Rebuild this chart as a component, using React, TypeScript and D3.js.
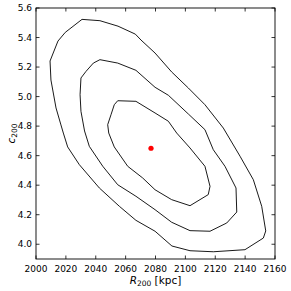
import React from "react";
import * as d3 from "d3";

const xTicks = [2000, 2020, 2040, 2060, 2080, 2100, 2120, 2140, 2160];
const yTicks = [4.0, 4.2, 4.4, 4.6, 4.8, 5.0, 5.2, 5.4, 5.6];

// contour levels: [R200, c200]
const outerContour: [number, number][] = [
  [2009.4, 5.241], [2014.7, 5.376], [2019.6, 5.435], [2030.8, 5.523], [2042.8, 5.514],
  [2054.9, 5.477], [2066.5, 5.423], [2070.3, 5.383], [2079.7, 5.295], [2090.8, 5.167],
  [2102.0, 5.058], [2113.1, 4.945], [2125.4, 4.787], [2136.6, 4.596], [2145.5, 4.437],
  [2151.1, 4.257], [2153.8, 4.09], [2152.2, 4.042], [2139.9, 3.963], [2118.7, 3.949],
  [2103.1, 3.956], [2091.0, 3.988], [2079.7, 4.088], [2066.9, 4.162], [2055.8, 4.257],
  [2042.4, 4.381], [2029.0, 4.539], [2021.2, 4.659], [2018.3, 4.753], [2016.7, 4.808],
  [2013.4, 4.923], [2010.0, 5.112],
];
const middleContour: [number, number][] = [
  [2029.5, 5.013], [2030.1, 5.126], [2033.5, 5.171], [2038.4, 5.227], [2042.8, 5.25],
  [2054.7, 5.227], [2066.9, 5.178], [2079.7, 5.063], [2088.6, 5.009], [2102.0, 4.882],
  [2113.1, 4.776], [2118.7, 4.64], [2126.5, 4.528], [2133.9, 4.381], [2134.4, 4.218],
  [2127.7, 4.144], [2116.5, 4.088], [2103.1, 4.092], [2090.8, 4.149], [2079.7, 4.234],
  [2066.9, 4.325], [2054.7, 4.403], [2044.7, 4.528], [2035.7, 4.663], [2032.5, 4.767],
  [2030.1, 4.9],
];
const innerContour: [number, number][] = [
  [2048.0, 4.81], [2050.2, 4.877], [2052.4, 4.945], [2054.7, 4.972], [2066.9, 4.968],
  [2079.7, 4.889], [2088.6, 4.833], [2094.2, 4.753], [2103.1, 4.652], [2113.1, 4.528],
  [2116.5, 4.392], [2115.3, 4.336], [2103.1, 4.261], [2090.8, 4.302], [2079.7, 4.369],
  [2071.4, 4.449], [2061.4, 4.528], [2052.4, 4.659], [2048.7, 4.753],
];
const contours = [outerContour, middleContour, innerContour];
const bestFit: [number, number] = [2077, 4.65];

const W = 291, H = 291;
const L = 36, R = 275, T = 8, B = 259;
const font = "DejaVu Sans, sans-serif";

export default function App() {
  const x = d3.scaleLinear().domain([2000, 2160]).range([L, R]);
  const y = d3.scaleLinear().domain([3.9, 5.6]).range([B, T]);
  const line = d3
    .line<[number, number]>()
    .x((d) => x(d[0]))
    .y((d) => y(d[1]))
    .curve(d3.curveLinearClosed);
  const tl = 3.5;
  return (
    <svg width={W} height={H} style={{ position: "absolute", left: 0, top: 0, background: "#fff" }}>
      <rect x={0} y={0} width={W} height={H} fill="#fff" />
      {contours.map((c, i) => (
        <path key={i} d={line(c) || ""} fill="none" stroke="#000" strokeWidth={0.9} strokeLinejoin="round" />
      ))}
      <circle cx={x(bestFit[0])} cy={y(bestFit[1])} r={2.6} fill="#ff0000" />
      <rect x={L} y={T} width={R - L} height={B - T} fill="none" stroke="#000" strokeWidth={0.9} />
      {xTicks.map((t) => (
        <g key={"x" + t}>
          <line x1={x(t)} x2={x(t)} y1={B} y2={B - tl} stroke="#000" strokeWidth={0.8} />
          <line x1={x(t)} x2={x(t)} y1={T} y2={T + tl} stroke="#000" strokeWidth={0.8} />
          <text x={x(t)} y={271.5} fontSize={9} fontFamily={font} textAnchor="middle">
            {t}
          </text>
        </g>
      ))}
      {yTicks.map((t) => (
        <g key={"y" + t}>
          <line x1={L} x2={L + tl} y1={y(t)} y2={y(t)} stroke="#000" strokeWidth={0.8} />
          <line x1={R} x2={R - tl} y1={y(t)} y2={y(t)} stroke="#000" strokeWidth={0.8} />
          <text x={32} y={y(t)} dy="0.36em" fontSize={9} fontFamily={font} textAnchor="end">
            {t.toFixed(1)}
          </text>
        </g>
      ))}
      <text x={(L + R) / 2} y={284} fontSize={10.5} fontFamily={font} textAnchor="middle">
        <tspan fontStyle="italic">R</tspan>
        <tspan fontSize={7.5} dy={2}>200</tspan>
        <tspan dy={-2}> [kpc]</tspan>
      </text>
      <text
        transform={`translate(15, ${(T + B) / 2}) rotate(-90)`}
        fontSize={10.5}
        fontFamily={font}
        textAnchor="middle"
      >
        <tspan fontStyle="italic">c</tspan>
        <tspan fontSize={7.5} dy={2}>200</tspan>
      </text>
    </svg>
  );
}
